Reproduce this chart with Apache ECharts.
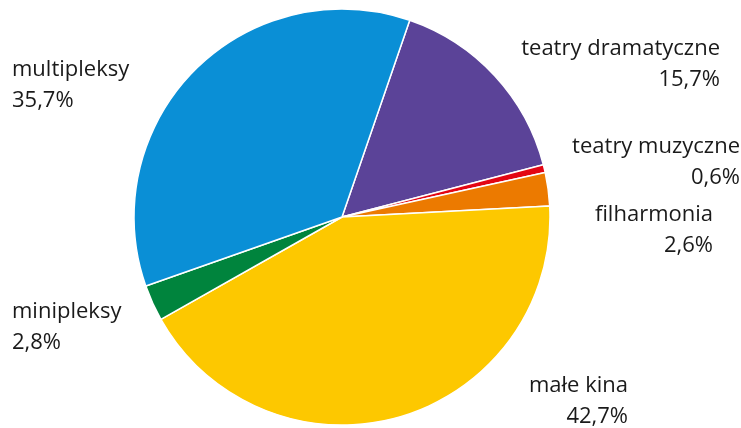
<!DOCTYPE html>
<html><head><meta charset="utf-8">
<script src="https://cdn.jsdelivr.net/npm/echarts@6/dist/echarts.min.js"></script>
<style>html,body{margin:0;padding:0;background:#fff}#c{width:741px;height:428px}</style>
</head><body><div id="c"></div>
<script>
const categories = ['teatry dramatyczne','teatry muzyczne','filharmonia','małe kina','minipleksy','multipleksy'];
const values = [15.7, 0.6, 2.6, 42.7, 2.8, 35.7];
const colors = ['#5b4398','#e30613','#ec7a00','#fdc800','#00843d','#0a8fd6'];
// label anchor layout (x, y of first line center, alignment)
const labelLayoutPos = [
  {x:720, y:49, align:'right'},
  {x:740, y:147, align:'right'},
  {x:713, y:215, align:'right'},
  {x:628, y:386, align:'right'},
  {x:12, y:312, align:'left'},
  {x:12, y:70, align:'left'}
];
const chart = echarts.init(document.getElementById('c'));
chart.setOption({
  animation:false,
  series:[{
    type:'pie',
    center:[342,217],
    radius:[0,208],
    startAngle:71,
    clockwise:true,
    avoidLabelOverlap:false,
    itemStyle:{borderColor:'#fff',borderWidth:1.5},
    label:{
      show:true,
      formatter:p=>p.name+'\n'+String(p.value).replace('.',',')+'%',
      fontFamily:'Open Sans',
      fontSize:22,
      lineHeight:31,
      color:'#1a1a1a'
    },
    labelLine:{show:false},
    labelLayout:function(params){
      const l = labelLayoutPos[params.dataIndex];
      return {x:l.x, y:l.y-15.5, align:l.align, verticalAlign:'top'};
    },
    data:categories.map((n,i)=>({name:n,value:values[i],itemStyle:{color:colors[i]},label:{align:labelLayoutPos[i].align}}))
  }]
});
</script></body></html>
